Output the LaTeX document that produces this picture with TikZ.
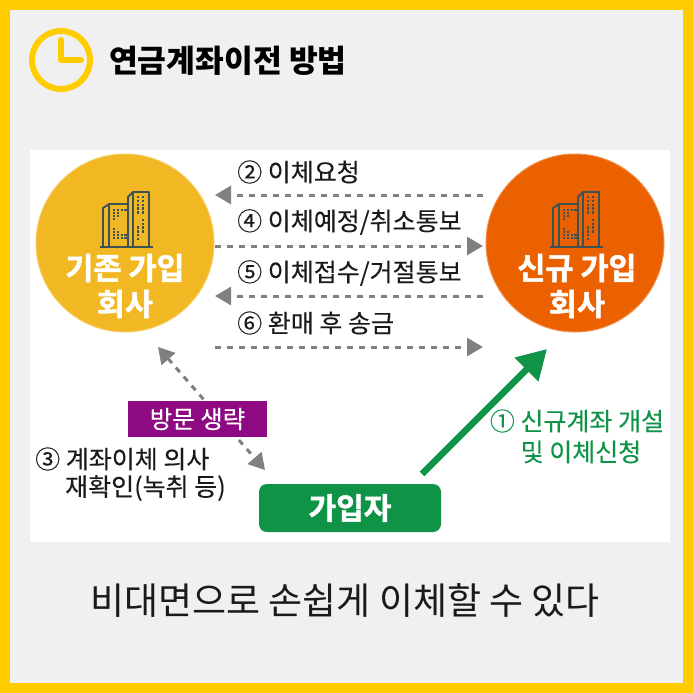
\documentclass[tikz,border=0pt]{standalone}
\usepackage{fontspec}
\setmainfont{Noto Sans CJK KR}
\newfontfamily\medf[FakeBold=0.2]{Noto Sans CJK KR}
\newfontfamily\heavyf[FakeBold=1.6]{Noto Sans CJK KR Bold}
\usetikzlibrary{arrows.meta}
\definecolor{frameY}{HTML}{FFCC00}
\definecolor{pageG}{HTML}{F0F0F0}
\definecolor{circY}{HTML}{F2B824}
\definecolor{circO}{HTML}{EB6100}
\definecolor{icon}{HTML}{3E5256}
\definecolor{arrowG}{HTML}{808080}
\definecolor{grn}{HTML}{0E9347}
\definecolor{purp}{HTML}{8E0A82}
\definecolor{txt}{HTML}{1A1A1A}
\tikzset{
 x=1pt,y=-1pt,
 firm/.style={circle,minimum size=178pt,inner sep=0pt,draw=#1!70!white,line width=1pt,fill=#1},
 firmlabel/.style={text=white,font=\fontsize{30.5}{36}\heavyf,align=center,inner sep=0pt},
 lab/.style={anchor=west,inner sep=0pt,text=txt,font=\fontsize{25}{30}\medf},
 lab2/.style={inner sep=0pt,text=txt,font=\fontsize{25}{32}\medf},
 dasharrow/.style={draw=arrowG,line width=3pt,dash pattern=on 6pt off 6pt,-{Triangle[length=16pt,width=18pt,fill=arrowG]}},
 dashboth/.style={dasharrow,{Triangle[length=16pt,width=18pt,fill=arrowG]}-{Triangle[length=16pt,width=18pt,fill=arrowG]}},
 bld/.style={draw=icon,line width=1.8pt,line join=round},
 win/.style={fill=icon,draw=none},
 pics/tower/.style={code={
  \draw[bld] (-25,55)--(28,55);
  \draw[bld] (-22,55)--(-22,16)--(-16,12)--(2,12);
  \draw[bld] (-16,12)--(-16,55);
  \draw[bld] (3,55)--(3,5)--(8,0)--(24,0)--(24,55);
  \draw[bld] (8,0)--(8,55);
  \foreach \i/\j in {0/0,1/0,2/0,3/0,0/1,1/1,0/2,1/2,0/3,0/6,0/7,1/7,0/8,1/8,2/8,3/8,0/9,1/9,2/9,3/9}
   \fill[win] (-12+\i*3.8,17+\j*3.1) rectangle ++(2.2,2);
  \foreach \i/\j in {0/0,1/0,0/1,1/1,0/2,1/2,0/3,1/3,0/4,1/4,1/6,1/7,0/8,1/8,0/9,1/9,0/10,0/11}
   \fill[win] (12+\i*5,4+\j*3.8) rectangle ++(2.4,2.4);
 }}
}
\begin{document}
\begin{tikzpicture}
\useasboundingbox (0,0) rectangle (693,693);
\fill[frameY] (0,0) rectangle (693,693);
\fill[pageG] (10,10) rectangle (683,683);
\fill[white] (30,150) rectangle (670,542);
% clock
\draw[frameY,line width=6pt] (61,60) circle (29);
\draw[frameY,line width=6pt,line cap=round,line join=round] (61,40)--(61,60)--(81,60);
\node[anchor=west,inner sep=0pt,text=black,font=\fontsize{31.3}{36}\selectfont\bfseries] (title) at (109,61) {연금계좌이전 방법};
% firms
\node[firm=circY] (old) at (125,243) {};
\node[firm=circO] (new) at (575,243) {};
\pic at (125,192) {tower};
\pic at (575,192) {tower};
\node[firmlabel] (oldt) at (125,286) {기존 가입\\회사};
\node[firmlabel] (newt) at (577,286) {신규 가입\\회사};
% endpoints
\coordinate (ra) at (483,195); \coordinate (la) at (215,195);
\coordinate (lb) at (215,246); \coordinate (rb) at (483,246);
\coordinate (rc) at (483,296); \coordinate (lc) at (215,296);
\coordinate (ld) at (215,347); \coordinate (rd) at (483,347);
\coordinate (dgA) at (158,347); \coordinate (dgB) at (265,470);
\coordinate (gA) at (422,474); \coordinate (gB) at (547,349);
\draw[dasharrow] (ra)--(la);
\draw[dasharrow] (lb)--(rb);
\draw[dasharrow] (rc)--(lc);
\draw[dasharrow] (ld)--(rd);
\draw[dashboth] (dgA)--(dgB);
\draw[grn,line width=6.5pt,-{Triangle[length=29pt,width=32pt]}] (gA)--(gB);
% labels
\node[lab] (l2) at (237,172) {② 이체요청};
\node[lab] (l4) at (237,222) {④ 이체예정/취소통보};
\node[lab] (l5) at (237,273) {⑤ 이체접수/거절통보};
\node[lab] (l6) at (237,323) {⑥ 환매 후 송금};
\node[fill=purp,text=white,minimum width=139pt,minimum height=36pt,inner sep=0pt,font=\fontsize{24.5}{28}\medf] (skip) at (197.5,419) {방문 생략};
\node[lab2,anchor=west] (l3a) at (35,459) {③ 계좌이체 의사};
\node[lab2,anchor=west] (l3b) at (65,488) {재확인(녹취 등)};
\node[lab2,text=grn] (l1a) at (577,421) {① 신규계좌 개설};
\node[lab2,text=grn] (l1b) at (581,452) {및 이체신청};
\node[fill=grn,text=white,rounded corners=8pt,minimum width=182pt,minimum height=48pt,inner sep=0pt,font=\fontsize{30}{34}\heavyf] (user) at (350,508) {가입자};
\node[inner sep=0pt,text=txt,font=\fontsize{37}{44}\selectfont] (foot) at (345,600) {비대면으로 손쉽게 이체할 수 있다};
\end{tikzpicture}
\end{document}
